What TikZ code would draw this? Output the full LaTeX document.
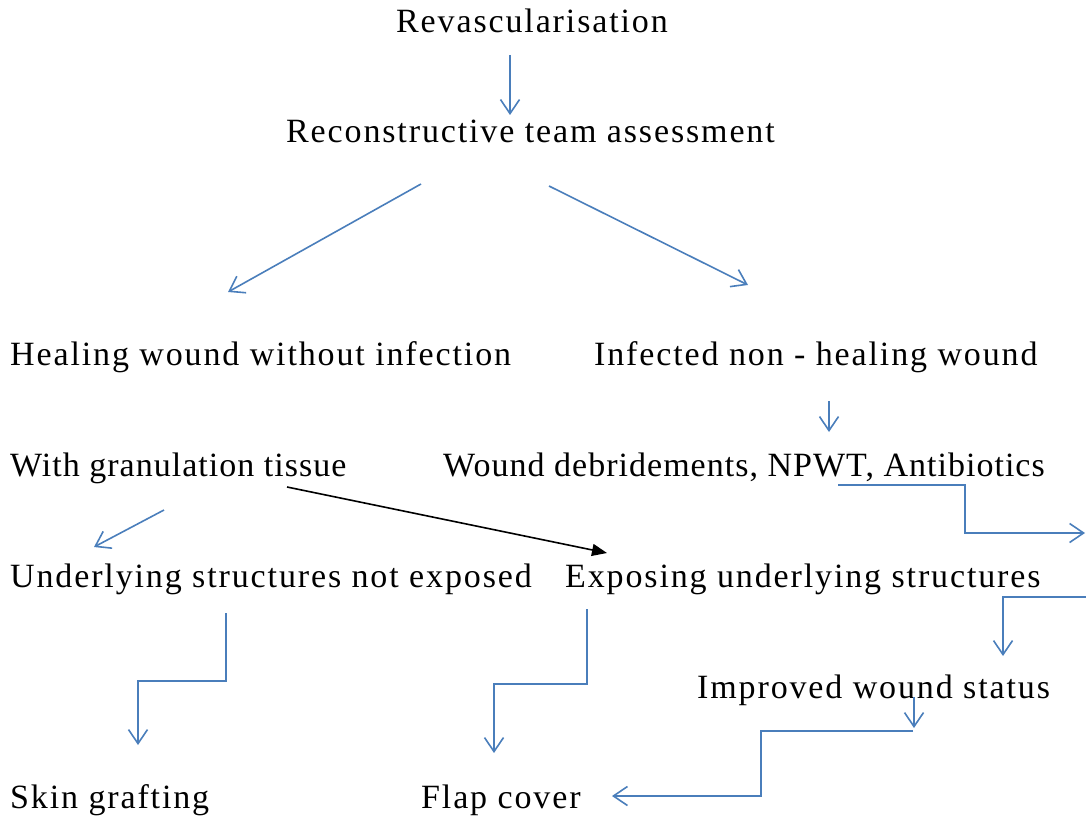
\documentclass[tikz,border=0pt]{standalone}
\usepackage{fontspec}
\setmainfont{Liberation Serif}[LetterSpace=5.5]
\usetikzlibrary{arrows.meta}
\definecolor{flowblue}{RGB}{74,126,187}
\newcommand{\stepfont}{\fontsize{34}{40}\selectfont}
\tikzset{
    lbl/.style={anchor=base west, inner sep=0pt, font=\stepfont},
    tight/.style={font=\stepfont\addfontfeature{LetterSpace=3}},
    blink/.style={draw=flowblue, line width=1.6pt, -{Straight Barb[length=14pt,width=19pt]}},
    klink/.style={draw=black, line width=1.6pt, -{Triangle[length=15pt,width=12pt]}}
}

\begin{document}
\begin{tikzpicture}[x=1pt,y=-1pt]
        \useasboundingbox (0,0) rectangle (1086,821);
        % steps of the pathway
        \node[lbl] (reva) at (396,33) {Revascularisation};
        \node[lbl] (recon) at (286,143) {Reconstructive team assessment};
        \node[lbl] (heal) at (10,365) {Healing wound without infection};
        \node[lbl] (infect) at (594,365) {Infected non - healing wound};
        \node[lbl,tight] (gran) at (10,476) {With granulation tissue};
        \node[lbl,tight] (debr) at (443,476) {Wound debridements, NPWT, Antibiotics};
        \node[lbl] (notexp) at (10,587) {Underlying structures not exposed};
        \node[lbl] (expo) at (565,587) {Exposing underlying structures};
        \node[lbl] (impr) at (697,698) {Improved wound status};
        \node[lbl] (graft) at (10,808) {Skin grafting};
        \node[lbl] (flap) at (421,808) {Flap cover};
        % loose ends of the arrows
        \coordinate (a1) at (510,55);   \coordinate (b1) at (510,115);
        \coordinate (a2) at (421,184);  \coordinate (b2) at (228,292);
        \coordinate (a3) at (549,186);  \coordinate (b3) at (748,285);
        \coordinate (a4) at (829,401);  \coordinate (b4) at (829,432);
        \coordinate (a5) at (838,485);  \coordinate (b5) at (1085,533);
        \coordinate (a6) at (1086,597); \coordinate (b6) at (1003,656);
        \coordinate (a7) at (914,697);  \coordinate (b7) at (914,728);
        \coordinate (a8) at (913,731);  \coordinate (b8) at (612,796);
        \coordinate (a9) at (164,510);  \coordinate (b9) at (94,547);
        \coordinate (a10) at (226,613); \coordinate (b10) at (138,745);
        \coordinate (a11) at (587,609); \coordinate (b11) at (494,753);
        \coordinate (a12) at (287,487); \coordinate (b12) at (607,553);
        \draw[blink] (a1) -- (b1);
        \draw[blink] (a2) -- (b2);
        \draw[blink] (a3) -- (b3);
        \draw[blink] (a4) -- (b4);
        \draw[blink] (a5) -- (965,485) -- (965,533) -- (b5);
        \draw[blink] (a6) -- (1003,597) -- (b6);
        \draw[blink] (a7) -- (b7);
        \draw[blink] (a8) -- (761,731) -- (761,796) -- (b8);
        \draw[blink] (a9) -- (b9);
        \draw[blink] (a10) -- (226,681) -- (138,681) -- (b10);
        \draw[blink] (a11) -- (587,684) -- (494,684) -- (b11);
        \draw[klink] (a12) -- (b12);
\end{tikzpicture}
\end{document}
